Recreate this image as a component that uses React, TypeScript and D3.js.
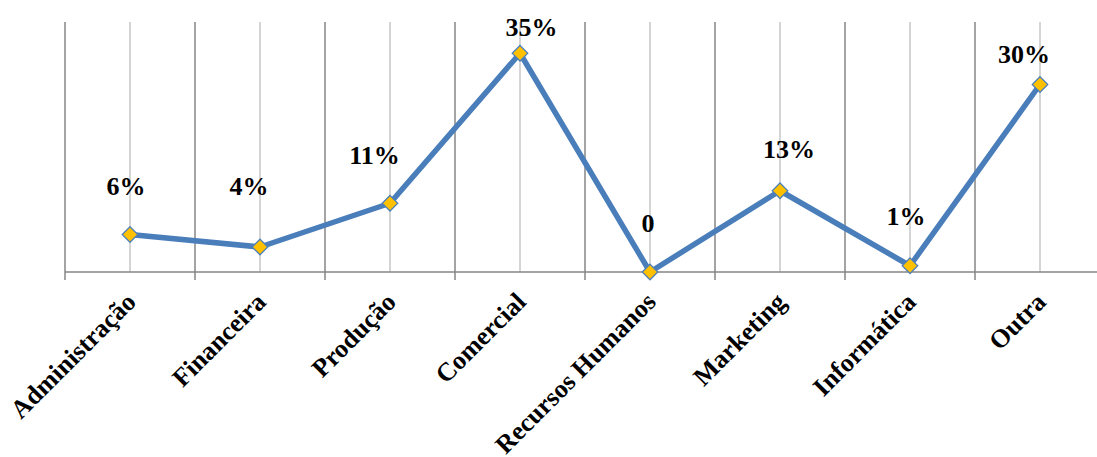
import React from "react";
import * as d3 from "d3";

const categories = ["Administração", "Financeira", "Produção", "Comercial", "Recursos Humanos", "Marketing", "Informática", "Outra"];
const values = [0.06, 0.04, 0.11, 0.35, 0, 0.13, 0.01, 0.30];
const valueLabels = ["6%", "4%", "11%", "35%", "0", "13%", "1%", "30%"];

// manual label placement (px) relative to each point: [dx, dy of baseline]
const labelOffsets: [number, number][] = [
  [-4, -39.5], [-11, -52], [-15.5, -39], [11.5, -17], [-2, -40], [9, -33], [-4, -41], [-16, -21.5],
];

const W = 1097, H = 457;
const left = 65, top = 22, bottom = 272;
const step = 130;
const right = left + step * categories.length;

export default function App() {
  const x = d3.scaleBand<string>().domain(categories).range([left, right]);
  const y = d3.scaleLinear().domain([0, 0.4]).range([bottom, top]);
  const cx = (c: string) => (x(c) as number) + x.bandwidth() / 2;
  const line = d3.line<number>().x((_, i) => cx(categories[i])).y((d) => y(d));
  const boundaries = d3.range(categories.length + 1).map((i) => left + i * x.bandwidth());
  const font = "'Liberation Serif', 'Times New Roman', serif";
  const diamond = d3.symbol().type(d3.symbolDiamond2).size(155)();

  return (
    <svg width={W} height={H} style={{ position: "absolute", left: 0, top: 0, background: "#fff" }}>
      {categories.map((c) => (
        <line key={"c" + c} x1={cx(c)} x2={cx(c)} y1={top} y2={bottom} stroke="#bfbfbf" strokeWidth={1.3} />
      ))}
      {boundaries.map((b, i) => (
        <line key={"b" + i} x1={b} x2={b} y1={top} y2={bottom + 8} stroke="#868686" strokeWidth={1.5} />
      ))}
      <line x1={left} x2={W} y1={bottom} y2={bottom} stroke="#868686" strokeWidth={1.5} />
      <path d={line(values) ?? ""} fill="none" stroke="#4A7EBB" strokeWidth={5.5} strokeLinejoin="round" />
      {values.map((v, i) => (
        <path key={"m" + i} d={diamond ?? ""} transform={`translate(${cx(categories[i])},${y(v)})`}
          fill="#FFC000" stroke="#4A7EBB" strokeWidth={1.2} />
      ))}
      {values.map((v, i) => (
        <text key={"l" + i} x={cx(categories[i]) + labelOffsets[i][0]} y={y(v) + labelOffsets[i][1]}
          textAnchor="middle" fontFamily={font} fontWeight="bold" fontSize={26} fill="#000">
          {valueLabels[i]}
        </text>
      ))}
      {categories.map((c) => (
        <text key={"t" + c} transform={`translate(${cx(c) + 1},${bottom + 25}) rotate(-45)`}
          textAnchor="end" dy="0.35em" fontFamily={font} fontWeight="bold" fontSize={26} fill="#000">
          {c}
        </text>
      ))}
    </svg>
  );
}
